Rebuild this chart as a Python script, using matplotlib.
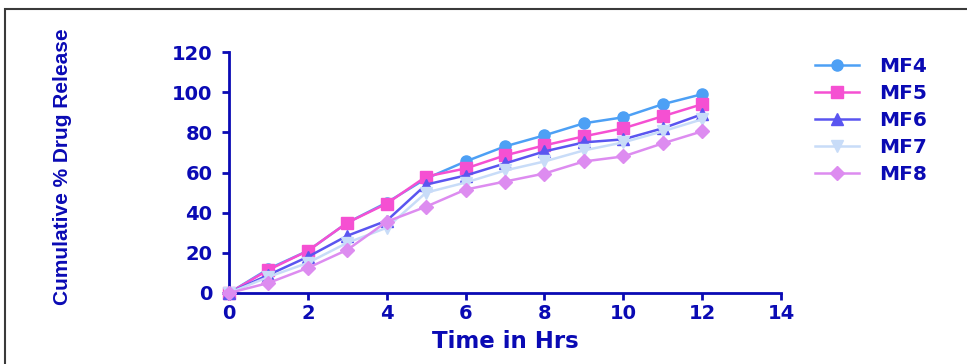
import matplotlib
matplotlib.use("Agg")
import matplotlib.pyplot as plt
from matplotlib.patches import Rectangle

plt.rcParams['font.family'] = ['DejaVu Sans']

# data
hours = [0, 1, 2, 3, 4, 5, 6, 7, 8, 9, 10, 11, 12]
mf4 = [0, 12, 21, 35, 45, 57, 65.5, 73, 78.5, 84.5, 87.5, 94, 99]
mf5 = [0, 11.5, 21, 35, 44.5, 58, 62, 68.5, 73.5, 78, 82, 88, 94]
mf6 = [0, 9, 18, 28.5, 36, 54, 58.5, 64.5, 70.5, 75, 76.5, 82, 89]
mf7 = [0, 8, 15, 25, 32.5, 50, 55, 61, 65.5, 71, 75, 80.5, 86.5]
mf8 = [0, 5, 12.5, 21.5, 35.5, 43, 51.5, 55.5, 59.5, 65.5, 68, 74.5, 80.5]

labels = ['MF4', 'MF5', 'MF6', 'MF7', 'MF8']
series = [mf4, mf5, mf6, mf7, mf8]
colors = ['#4DA0F5', '#F550D2', '#5A55F0', '#C8DCF8', '#DD8CF0']
markers = ['o', 's', '^', 'v', 'D']
msizes = [8, 9, 8, 8, 7]

axis_col = '#0A0AB4'

fig = plt.figure(figsize=(9.67, 3.64), dpi=100)
ax = fig.add_axes([229 / 967, 1 - 293 / 364, (781 - 229) / 967, (293 - 52) / 364])

for lab, ys, c, m, ms in zip(labels, series, colors, markers, msizes):
    ax.plot(hours, ys, color=c, marker=m, markersize=ms, lw=1.8, label=lab,
            clip_on=False, zorder=3)

ax.set_xlim(0, 14)
ax.set_ylim(0, 120)
ax.set_xticks(range(0, 15, 2))
ax.set_yticks(range(0, 121, 20))

for s in ['top', 'right']:
    ax.spines[s].set_visible(False)
for s in ['left', 'bottom']:
    ax.spines[s].set_color(axis_col)
    ax.spines[s].set_linewidth(2)

ax.tick_params(axis='both', colors=axis_col, width=2, length=5, direction='out',
               labelsize=14, pad=3)
ax.tick_params(axis='y', pad=7)
for t in ax.get_xticklabels() + ax.get_yticklabels():
    t.set_fontweight('bold')
    t.set_color(axis_col)

ax.set_xlabel('Time in Hrs', fontsize=16.5, fontweight='bold', color=axis_col, labelpad=5)
fig.text(63 / 967, 1 - 167 / 364, 'Cumulative % Drug Release', rotation=90,
         fontsize=15, fontweight='bold', color=axis_col, ha='center', va='center',
         family='Liberation Sans')

leg = ax.legend(loc='upper left', bbox_to_anchor=(815 / 967, 1 - 57 / 364),
                bbox_transform=fig.transFigure, frameon=False, fontsize=14.5,
                handlelength=2.2, handletextpad=1.0, labelspacing=0.4,
                borderpad=0, borderaxespad=0)
for t in leg.get_texts():
    t.set_color(axis_col)
    t.set_fontweight('bold')

# outer frame
fig.patches.append(Rectangle((5 / 967, -0.1), 1.1, 1.1 - 9 / 364, transform=fig.transFigure,
                             fill=False, edgecolor='#3a3a3a', lw=1.5))

fig.savefig('out.png', dpi=100)
